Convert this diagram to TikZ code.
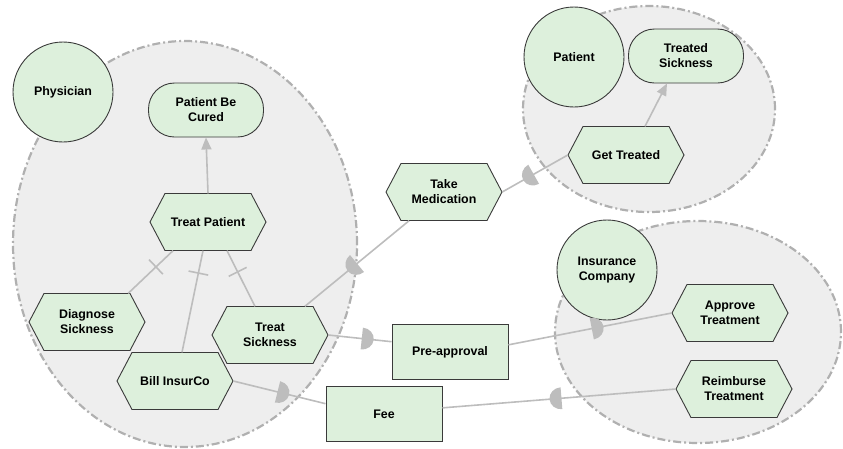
\documentclass[tikz,border=0pt]{standalone}
\usepackage{fontspec}
\setmainfont{Liberation Sans}
\usetikzlibrary{arrows.meta,decorations.markings}
\definecolor{nodefill}{HTML}{DDF0DC}
\definecolor{bndfill}{HTML}{EEEEEE}
\definecolor{bndline}{HTML}{B0B0B0}
\definecolor{linkc}{HTML}{BDBDBD}
\definecolor{bordc}{HTML}{3A3A3A}
\newcommand\hexnode[4]{%
  \filldraw[elem] (#2-58,#3) -- (#2-43,#3-28.5) -- (#2+43,#3-28.5) -- (#2+58,#3) -- (#2+43,#3+28.5) -- (#2-43,#3+28.5) -- cycle;
  \node[txt, minimum width=116pt, minimum height=57pt] (#1) at (#2,#3) {#4};}
\begin{document}
\begin{tikzpicture}[x=1pt,y=-1pt,
  bnd/.style={fill=bndfill, draw=bndline, line width=2.2pt, dash pattern=on 8pt off 3pt on 2pt off 3pt},
  elem/.style={fill=nodefill, draw=bordc, line width=0.9pt},
  txt/.style={align=center, inner sep=0pt, font=\fontsize{12.4}{15}\selectfont\bfseries},
  actor/.style={elem, txt, circle, minimum size=100pt},
  goal/.style={elem, txt, rounded corners=26pt, minimum width=115pt, minimum height=54pt},
  res/.style={elem, txt, rectangle, minimum width=116pt, minimum height=55pt},
  link/.style={draw=linkc, line width=1.6pt},
  meansend/.style={link, -{Triangle[length=12pt,width=10pt]}},
  decomp/.style={link, postaction={decorate}, decoration={markings, mark=at position #1 with {\draw[link] (0,-10pt) -- (0,10pt);}}},
  dfwd/.style={link, postaction={decorate}, decoration={markings, mark=at position #1 with {\fill[linkc] (0,-11pt) arc[start angle=-90, end angle=90, x radius=12pt, y radius=11pt] -- cycle;}}},
  dback/.style={link, postaction={decorate}, decoration={markings, mark=at position #1 with {\fill[linkc] (0,-11pt) arc[start angle=270, end angle=90, x radius=12pt, y radius=11pt] -- cycle;}}}
]
\useasboundingbox (0,0) rectangle (843,448);
% boundaries
\path[bnd] (185,244) ellipse[x radius=172pt, y radius=203pt];
\path[bnd] (649,109) ellipse[x radius=126pt, y radius=103pt];
\path[bnd] (698,332) ellipse[x radius=143pt, y radius=111pt];
% actors
\node[actor] (phys) at (63,92) {Physician};
\node[actor] (pat) at (574,57) {Patient};
\node[actor] (ins) at (607,270) {Insurance\\Company};
% goals
\node[goal] (pbc) at (206,110) {Patient Be\\Cured};
\node[goal] (tsk) at (686,56) {Treated\\Sickness};
% tasks
\hexnode{tp}{208}{222}{Treat Patient}
\hexnode{ds}{87}{322}{Diagnose\\Sickness}
\hexnode{ts}{270}{335}{Treat\\Sickness}
\hexnode{bi}{175}{381}{Bill InsurCo}
\hexnode{tm}{444}{192}{Take\\Medication}
\hexnode{gt}{626}{155}{Get Treated}
\hexnode{at}{730}{313}{Approve\\Treatment}
\hexnode{rt}{734}{389}{Reimburse\\Treatment}
% resources
\node[res] (fee) at (384,414) {Fee};
\node[res] (pa) at (450,352) {Pre-approval};
% means-end links
\draw[meansend] (tp.north) -- (pbc.south);
\draw[meansend] ([xshift=19pt]gt.north) -- ([xshift=-19pt]tsk.south);
% decomposition links
\draw[decomp=0.62] ([xshift=-17pt]ds.north east) -- ([xshift=-35pt]tp.south);
\draw[decomp=0.78] ([xshift=7pt]bi.north) -- ([xshift=-5pt]tp.south);
\draw[decomp=0.62] ([xshift=-15pt]ts.north) -- ([xshift=19pt]tp.south);
% dependencies
\draw[dback=0.5] (ts) -- (tm);
\draw[dback=0.48] (tm.east) -- (gt.west);
\draw[dfwd=0.53] (ts.east) -- (pa.170);
\draw[dfwd=0.51] (pa.7) -- (at.west);
\draw[dfwd=0.48] (bi.east) -- (fee.170);
\draw[dback=0.51] (fee.6) -- (rt.west);
\end{tikzpicture}
\end{document}
